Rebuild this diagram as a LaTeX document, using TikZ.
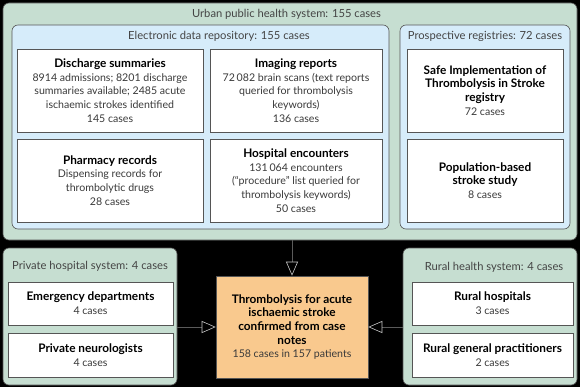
\documentclass[tikz,border=0pt]{standalone}
\usepackage{fontspec}
\setmainfont{Lato}
\usetikzlibrary{arrows.meta}
\definecolor{sysgreen}{HTML}{C6DED1}
\definecolor{repoblue}{HTML}{D6ECFA}
\definecolor{peach}{HTML}{F9C98E}
\definecolor{edge}{HTML}{555555}
\definecolor{txt}{HTML}{3A3A3A}
\definecolor{ttlcol}{HTML}{444444}
\definecolor{lineg}{HTML}{5A5A5A}
\definecolor{tipc}{HTML}{C8C8C8}
\newcommand{\fs}{\fontsize{10.6}{13.7}\selectfont}
\newcommand{\hd}[1]{{\fontsize{11.8}{13.7}\selectfont\bfseries\color{black}#1}}
\begin{document}
\begin{tikzpicture}[x=1pt,y=-1pt,
  outerbox/.style={draw=edge, fill=sysgreen, rounded corners=6pt, inner sep=0pt, line width=0.6pt},
  innerbox/.style={draw=edge, fill=repoblue, rounded corners=6pt, inner sep=0pt, line width=0.6pt},
  wbox/.style={draw=edge, fill=white, align=center, font=\fs, text=txt, inner sep=0pt, line width=0.6pt},
  cbox/.style={draw=edge, fill=peach, align=center, font=\fs, text=txt, inner sep=0pt, line width=0.6pt},
  ttl/.style={font=\fontsize{11.2}{13.7}\selectfont, text=ttlcol, inner sep=0pt},
  conn/.style={draw=lineg, line width=0.6pt, -{Triangle[open, length=14pt, width=12pt, color=tipc, line width=0.6pt]}}]
\fill[black] (0,0) rectangle (580,387);
\useasboundingbox (0,0) rectangle (580,387);

% Urban public health system
\node[outerbox, minimum width=574pt, minimum height=237pt] (urban) at (290,121.5) {};
\node[ttl] (urbant) at (286.5,14) {Urban public health system: 155 cases};
\node[innerbox, minimum width=377pt, minimum height=204pt] (edr) at (200.5,127) {};
\node[ttl] (edrt) at (219,36) {Electronic data repository: 155 cases};
\node[innerbox, minimum width=170pt, minimum height=204pt] (pr) at (485,127) {};
\node[ttl] (prt) at (485,36) {Prospective registries: 72 cases};

\node[wbox, minimum width=186pt, minimum height=83pt] (ds) at (110,90.5)
  {\hd{Discharge summaries}\\8914 admissions; 8201 discharge\\summaries available; 2485 acute\\ischaemic strokes identified\\145 cases};
\node[wbox, minimum width=172pt, minimum height=83pt] (img) at (296,90.5)
  {\hd{Imaging reports}\\72\,082 brain scans (text reports\\queried for thrombolysis\\keywords)\\136 cases};
\node[wbox, minimum width=186pt, minimum height=83pt] (ph) at (110,180.5)
  {\hd{Pharmacy records}\\Dispensing records for\\thrombolytic drugs\\28 cases};
\node[wbox, minimum width=172pt, minimum height=83pt] (he) at (296,180.5)
  {\hd{Hospital encounters}\\131\,064 encounters\\(“procedure” list queried for\\thrombolysis keywords)\\50 cases};
\node[wbox, minimum width=156pt, minimum height=83pt] (sits) at (485,90.5)
  {\hd{Safe Implementation of}\\\hd{Thrombolysis in Stroke}\\\hd{registry}\\72 cases};
\node[wbox, minimum width=156pt, minimum height=83pt] (pbs) at (485,180.5)
  {\hd{Population-based}\\\hd{stroke study}\\8 cases};

% Private hospital system
\node[outerbox, minimum width=174pt, minimum height=137pt] (priv) at (90,316.5) {};
\node[ttl] (privt) at (90,266) {Private hospital system: 4 cases};
\node[wbox, minimum width=165pt, minimum height=43pt] (ed) at (90.5,303.5)
  {\hd{Emergency departments}\\4 cases};
\node[wbox, minimum width=165pt, minimum height=44pt] (pn) at (90.5,355)
  {\hd{Private neurologists}\\4 cases};

% Rural health system
\node[outerbox, minimum width=174pt, minimum height=137pt] (rural) at (490,316.5) {};
\node[ttl] (ruralt) at (494,267) {Rural health system: 4 cases};
\node[wbox, minimum width=161pt, minimum height=43pt] (rh) at (492.5,303.5)
  {\hd{Rural hospitals}\\3 cases};
\node[wbox, minimum width=161pt, minimum height=44pt] (rgp) at (492.5,355)
  {\hd{Rural general practitioners}\\2 cases};

% Central box
\node[cbox, minimum width=152pt, minimum height=102pt] (ctr) at (292,327)
  {\hd{Thrombolysis for acute}\\\hd{ischaemic stroke}\\\hd{confirmed from case}\\\hd{notes}\\158 cases in 157 patients};

% Connectors
\draw[conn] (ctr.north |- urban.south) -- (ctr.north);
\draw[conn] (priv.east |- ctr.west) -- (ctr.west);
\draw[conn] (rural.west |- ctr.east) -- (ctr.east);
\end{tikzpicture}
\end{document}
